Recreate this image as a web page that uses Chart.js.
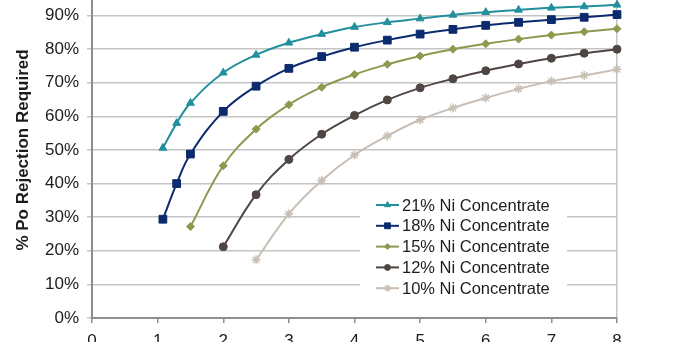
<!DOCTYPE html>
<html>
<head>
<meta charset="utf-8">
<script src="https://cdn.jsdelivr.net/npm/chart.js@4.4.1/dist/chart.umd.min.js"></script>
<style>
	body { margin: 0; background: #fff; overflow: hidden; }
	#wrap { position: absolute; left: 0; top: -40px; width: 683px; height: 400px; }
</style>
</head>
<body>
<div id="wrap"><canvas id="rejection-chart" width="683" height="400"></canvas></div>
<script>
// series names (legend order)
const seriesNames = ['21% Ni Concentrate', '18% Ni Concentrate', '15% Ni Concentrate', '12% Ni Concentrate', '10% Ni Concentrate']

// x values for each series
const x21 = [1.08, 1.29, 1.5, 2, 2.5, 3, 3.5, 4, 4.5, 5, 5.5, 6, 6.5, 7, 7.5, 8]
const x18 = [1.08, 1.29, 1.5, 2, 2.5, 3, 3.5, 4, 4.5, 5, 5.5, 6, 6.5, 7, 7.5, 8]
const x15 = [1.5, 2, 2.5, 3, 3.5, 4, 4.5, 5, 5.5, 6, 6.5, 7, 7.5, 8]
const x12 = [2, 2.5, 3, 3.5, 4, 4.5, 5, 5.5, 6, 6.5, 7, 7.5, 8]
const x10 = [2.5, 3, 3.5, 4, 4.5, 5, 5.5, 6, 6.5, 7, 7.5, 8]

// % Po rejection required
const y21 = [50.6, 58, 64, 73, 78.3, 81.9, 84.5, 86.6, 88, 89.1, 90.2, 91, 91.7, 92.3, 92.7, 93.2]
const y18 = [29.4, 40, 48.8, 61.5, 69, 74.3, 77.8, 80.6, 82.7, 84.5, 85.9, 87.1, 88, 88.8, 89.5, 90.3]
const y15 = [27.2, 45.3, 56.2, 63.5, 68.7, 72.5, 75.5, 78, 80, 81.6, 83, 84.2, 85.2, 86.1]
const y12 = [21.2, 36.7, 47.2, 54.7, 60.3, 64.9, 68.5, 71.2, 73.6, 75.6, 77.3, 78.8, 80]
const y10 = [17.3, 31, 40.9, 48.5, 54.2, 59, 62.5, 65.5, 68.2, 70.5, 72.2, 74]

// axis ticks
const xTicks = [0, 1, 2, 3, 4, 5, 6, 7, 8]
const yTicks = [0, 10, 20, 30, 40, 50, 60, 70, 80, 90, 100]

document.addEventListener("DOMContentLoaded", function () {
	const font = "'Liberation Sans', Arial, sans-serif"
	const textColor = '#1c1c1c'

	const toPoints = (xs, ys) => xs.map((x, i) => ({ x: x, y: ys[i] }))

	const styles = [
		{ color: '#22909c', pointStyle: 'triangle', radius: 4.5 },
		{ color: '#0c2a6e', pointStyle: 'rect', radius: 5.5 },
		{ color: '#8c9a4f', pointStyle: 'rectRot', radius: 4 },
		{ color: '#4f4543', pointStyle: 'circle', radius: 4 },
		{ color: '#c8beb4', pointStyle: 'star', radius: 4.5 }
	]
	const xs = [x21, x18, x15, x12, x10]
	const ys = [y21, y18, y15, y12, y10]

	const datasets = seriesNames.map((name, i) => ({
		label: name,
		data: toPoints(xs[i], ys[i]),
		borderColor: styles[i].color,
		backgroundColor: styles[i].color,
		pointBackgroundColor: styles[i].color,
		pointBorderColor: styles[i].color,
		pointStyle: styles[i].pointStyle,
		pointRadius: styles[i].radius,
		pointBorderWidth: styles[i].pointStyle === 'star' ? 1.5 : 1,
		borderWidth: 2,
		tension: 0.4,
		fill: false,
		clip: false
	}))

	//legend drawn inside the plot with a white box
	const insideLegend = {
		id: 'insideLegend',
		afterDraw(chart) {
			const ctx = chart.ctx
			const area = chart.chartArea
			const left = area.left + 268
			const top = area.top + 210
			ctx.save()
			ctx.fillStyle = '#fff'
			ctx.fillRect(left, top, 207, 108)
			chart.data.datasets.forEach((ds, i) => {
				const cy = top + 13 + i * 20.8
				const lx = left + 16
				ctx.strokeStyle = ds.borderColor
				ctx.lineWidth = 2
				ctx.beginPath()
				ctx.moveTo(lx, cy)
				ctx.lineTo(lx + 23, cy)
				ctx.stroke()
				ctx.fillStyle = ds.borderColor
				ctx.lineWidth = ds.pointBorderWidth
				if (Chart.helpers && Chart.helpers.drawPoint) {
					Chart.helpers.drawPoint(ctx, {
						pointStyle: ds.pointStyle,
						radius: ds.pointRadius * 0.75,
						rotation: 0,
						borderWidth: ds.pointBorderWidth
					}, lx + 11.5, cy)
				}
				ctx.fillStyle = textColor
				ctx.font = `16.5px ${font}`
				ctx.textAlign = 'left'
				ctx.textBaseline = 'middle'
				ctx.fillText(ds.label, lx + 26, cy + 1)
			})
			ctx.restore()
		}
	}

	const chart_ctx = document.getElementById("rejection-chart").getContext("2d")
	new Chart(chart_ctx, {
		type: 'line',
		data: { datasets: datasets },
		plugins: [insideLegend],
		options: {
			responsive: false,
			animation: false,
			layout: { padding: { top: 22, right: 66, bottom: 0, left: 0 } },
			plugins: {
				legend: { display: false },
				tooltip: { enabled: false }
			},
			scales: {
				x: {
					type: 'linear',
					min: 0,
					max: 8,
					afterFit: (scale) => { scale.height = 42 },
					afterBuildTicks: (scale) => { scale.ticks = xTicks.map(v => ({ value: v })) },
					grid: {
						color: (c) => (c.tick && c.tick.value === 8) ? '#c4c4c4' : 'rgba(0,0,0,0)',
						lineWidth: 1.5,
						drawTicks: true,
						tickLength: 5,
						tickColor: '#8e8e8e',
						tickWidth: 1.5
					},
					border: { display: true, color: '#8e8e8e', width: 2 },
					ticks: {
						padding: 8,
						color: textColor,
						font: { family: font, size: 17 }
					}
				},
				y: {
					type: 'linear',
					min: 0,
					max: 100,
					afterFit: (scale) => { scale.width = 92 },
					afterBuildTicks: (scale) => { scale.ticks = yTicks.map(v => ({ value: v })) },
					grid: {
						color: '#c4c4c4',
						lineWidth: 1.5,
						drawTicks: true,
						tickLength: 5,
						tickColor: '#c4c4c4'
					},
					border: { display: true, color: '#8e8e8e', width: 2 },
					ticks: {
						padding: 8,
						color: textColor,
						font: { family: font, size: 17 },
						callback: (v) => v + '%'
					},
					title: {
						display: true,
						text: '% Po Rejection Required',
						color: textColor,
						font: { family: font, size: 17, weight: 'bold' },
						padding: { top: 13, bottom: 0 }
					}
				}
			}
		}
	})
})
</script>
</body>
</html>
